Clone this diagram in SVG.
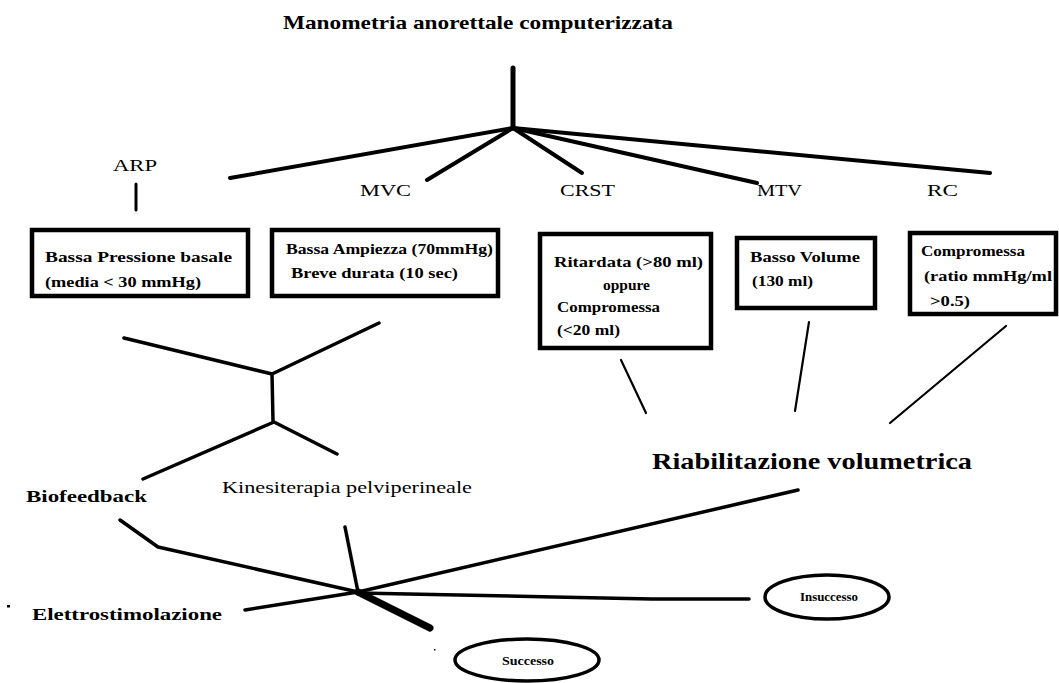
<svg xmlns="http://www.w3.org/2000/svg" width="1059" height="683" viewBox="0 0 1059 683">
<style>
text{font-family:"Liberation Serif","Times New Roman",serif;fill:#000}
.b{font-weight:bold}
.box{fill:#fff;stroke:#000;stroke-width:4.5}
.ell{fill:#fff;stroke:#000;stroke-width:3.5}
.ln{stroke:#000;stroke-width:4;fill:none;stroke-linecap:round;stroke-linejoin:round}
.th{stroke:#000;stroke-width:2.2;fill:none;stroke-linecap:round}
</style>
<rect width="1059" height="683" fill="#fff"/>
<g id="connectors">
<line class="ln" x1="513" y1="68" x2="513" y2="128" style="stroke-width:5"/>
<line class="ln" x1="513" y1="128" x2="230" y2="178"/>
<line class="ln" x1="513" y1="128" x2="427" y2="180"/>
<line class="ln" x1="513" y1="128" x2="582" y2="173"/>
<line class="ln" x1="513" y1="128" x2="757" y2="183"/>
<line class="ln" x1="513" y1="128" x2="990" y2="173"/>
<line class="ln" x1="136" y1="184" x2="136" y2="210" style="stroke-width:3"/>
<polyline class="ln" points="124,338 272,374 379,323" style="stroke-width:3.5"/>
<line class="ln" x1="272" y1="374" x2="273" y2="421" style="stroke-width:3.5"/>
<polyline class="ln" points="143,479 274,422 337,454" style="stroke-width:3.5"/>
<line class="th" x1="621" y1="360" x2="646" y2="413"/>
<line class="th" x1="809" y1="322" x2="795" y2="411"/>
<line class="th" x1="1006" y1="326" x2="890" y2="423"/>
<polyline class="ln" points="120,520 158,547 358,592" style="stroke-width:3.5"/>
<line class="ln" x1="345" y1="527" x2="358" y2="592" style="stroke-width:3.5"/>
<line class="ln" x1="245" y1="610" x2="358" y2="592" style="stroke-width:3.5"/>
<line class="ln" x1="358" y1="592" x2="798" y2="490" style="stroke-width:3.5"/>
<polyline class="ln" points="358,593 458,595 554,597 652,599 749,599" style="stroke-width:3.5"/>
<line class="ln" x1="358" y1="592" x2="430" y2="628" style="stroke-width:7"/>
<rect x="7" y="605" width="3" height="2.5" fill="#000"/>
<rect x="434" y="649" width="1.5" height="1.5" fill="#000"/>
</g>
<g id="title"><text x="283" y="29" font-size="19" class="b" textLength="390" lengthAdjust="spacingAndGlyphs">Manometria anorettale computerizzata</text></g>
<g id="arp"><text x="113" y="171" font-size="17" textLength="44" lengthAdjust="spacingAndGlyphs">ARP</text></g>
<g id="mvc"><text x="360" y="196" font-size="17" textLength="51" lengthAdjust="spacingAndGlyphs">MVC</text></g>
<g id="crst"><text x="560" y="196" font-size="17" textLength="55" lengthAdjust="spacingAndGlyphs">CRST</text></g>
<g id="mtv"><text x="757" y="196" font-size="17" textLength="45" lengthAdjust="spacingAndGlyphs">MTV</text></g>
<g id="rc"><text x="927" y="196" font-size="17" textLength="31" lengthAdjust="spacingAndGlyphs">RC</text></g>
<g id="box1">
<rect class="box" x="32" y="230" width="216" height="66"/>
<text class="b" x="45" y="262" font-size="14" textLength="187" lengthAdjust="spacingAndGlyphs">Bassa Pressione basale</text>
<text class="b" x="45" y="287" font-size="14" textLength="156" lengthAdjust="spacingAndGlyphs">(media &lt; 30 mmHg)</text>
</g>
<g id="box2">
<rect class="box" x="272" y="230" width="226" height="66"/>
<text class="b" x="286" y="254" font-size="14" textLength="207" lengthAdjust="spacingAndGlyphs">Bassa Ampiezza (70mmHg)</text>
<text class="b" x="291" y="278" font-size="14" textLength="167" lengthAdjust="spacingAndGlyphs">Breve durata (10 sec)</text>
</g>
<g id="box3">
<rect class="box" x="540" y="234" width="171" height="114"/>
<text class="b" x="554" y="267" font-size="14" textLength="149" lengthAdjust="spacingAndGlyphs">Ritardata (&gt;80 ml)</text>
<text class="b" x="603" y="290" font-size="14" textLength="47" lengthAdjust="spacingAndGlyphs">oppure</text>
<text class="b" x="557" y="312" font-size="14" textLength="103" lengthAdjust="spacingAndGlyphs">Compromessa</text>
<text class="b" x="557" y="335" font-size="14" textLength="63" lengthAdjust="spacingAndGlyphs">(&lt;20 ml)</text>
</g>
<g id="box4">
<rect class="box" x="737" y="238" width="138" height="70"/>
<text class="b" x="750" y="262" font-size="14" textLength="110" lengthAdjust="spacingAndGlyphs">Basso Volume</text>
<text class="b" x="752" y="286" font-size="14" textLength="61" lengthAdjust="spacingAndGlyphs">(130 ml)</text>
</g>
<g id="box5">
<rect class="box" x="910" y="233" width="146" height="81"/>
<text class="b" x="921" y="256" font-size="14" textLength="104" lengthAdjust="spacingAndGlyphs">Compromessa</text>
<text class="b" x="924" y="281" font-size="14" textLength="128" lengthAdjust="spacingAndGlyphs">(ratio mmHg/ml</text>
<text class="b" x="930" y="306" font-size="14" textLength="40" lengthAdjust="spacingAndGlyphs">&gt;0.5)</text>
</g>
<g id="riabilitazione"><text class="b" x="652" y="469" font-size="23" textLength="320" lengthAdjust="spacingAndGlyphs">Riabilitazione volumetrica</text></g>
<g id="biofeedback"><text class="b" x="26" y="502" font-size="16" textLength="121" lengthAdjust="spacingAndGlyphs">Biofeedback</text></g>
<g id="kinesiterapia"><text x="222" y="493" font-size="17" textLength="250" lengthAdjust="spacingAndGlyphs">Kinesiterapia pelviperineale</text></g>
<g id="elettrostimolazione"><text class="b" x="32" y="620" font-size="16" textLength="190" lengthAdjust="spacingAndGlyphs">Elettrostimolazione</text></g>
<g id="insuccesso">
<ellipse class="ell" cx="827" cy="597" rx="62" ry="22"/>
<text class="b" x="800" y="601" font-size="12" textLength="58" lengthAdjust="spacingAndGlyphs">Insuccesso</text>
</g>
<g id="successo">
<ellipse class="ell" cx="527" cy="660" rx="72" ry="21"/>
<text class="b" x="502" y="665" font-size="12" textLength="52" lengthAdjust="spacingAndGlyphs">Successo</text>
</g>
</svg>
